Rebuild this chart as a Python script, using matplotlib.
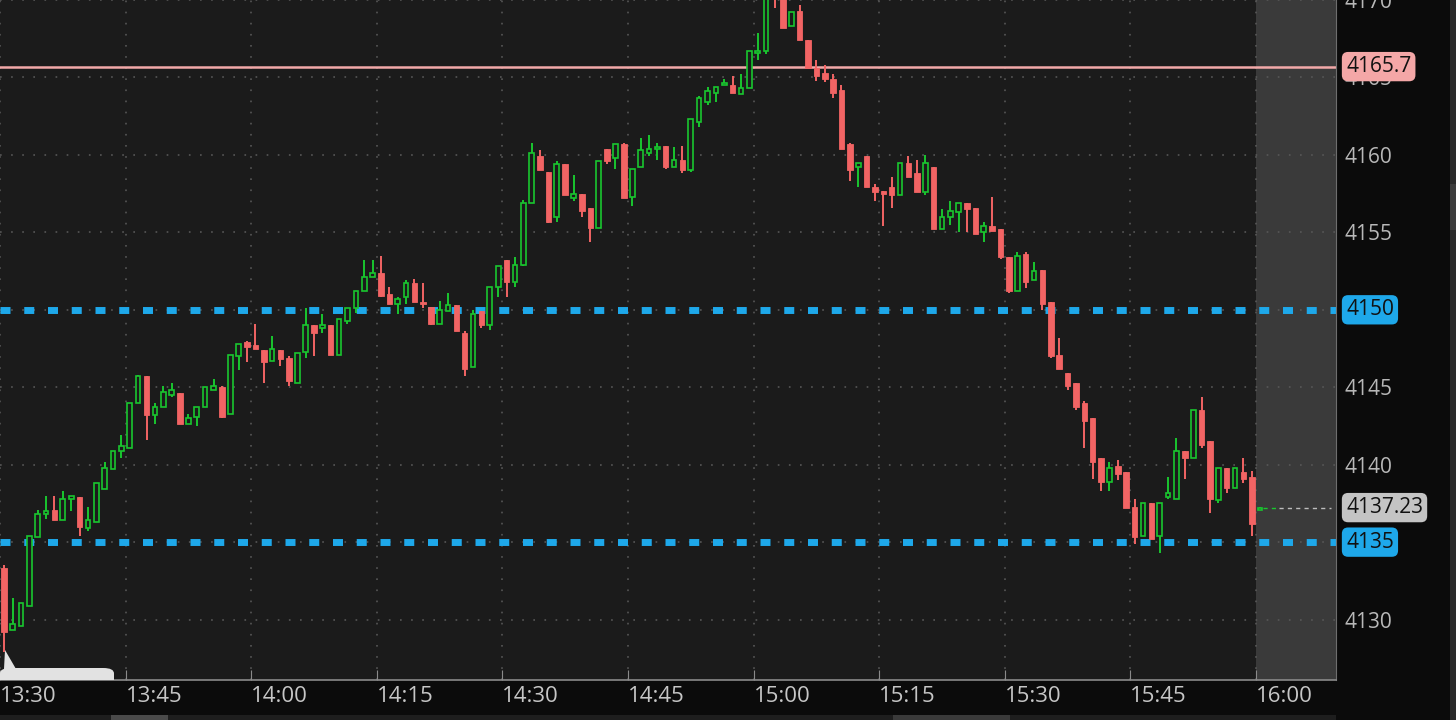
import matplotlib
matplotlib.use("Agg")
import matplotlib.pyplot as plt
from matplotlib.patches import Polygon, FancyBboxPatch, Rectangle
import numpy as np

# one-minute candles from 13:30
opens = [4133.3, 4129.3, 4129.6, 4130.9, 4135.3, 4136.8, 4137.1, 4136.4, 4137.8, 4137.9,
         4135.9, 4136.3, 4138.4, 4139.7, 4140.9, 4141.1, 4144.0, 4145.7, 4143.2, 4143.7,
         4144.5, 4144.6, 4142.6, 4143.1, 4143.7, 4144.8, 4145.0, 4143.3, 4147.0, 4147.9,
         4147.7, 4147.4, 4146.7, 4147.4, 4146.9, 4145.3, 4147.3, 4149.0, 4148.8, 4149.0,
         4147.1, 4149.3, 4150.1, 4151.2, 4152.1, 4152.4, 4151.0, 4150.4, 4150.8, 4151.7,
         4150.5, 4150.2, 4149.1, 4149.9, 4150.3, 4148.5, 4146.3, 4149.9, 4149.0, 4151.5,
         4153.2, 4151.8, 4152.9, 4156.9, 4159.9, 4158.9, 4156.0, 4159.4, 4157.2, 4157.5,
         4156.6, 4155.3, 4160.4, 4159.8, 4160.7, 4157.3, 4159.2, 4160.1, 4160.4, 4160.6,
         4159.2, 4159.7, 4159.0, 4162.1, 4163.4, 4164.0, 4164.5, 4164.5, 4163.9, 4164.3,
         4166.6, 4166.7, 4171.5, 4170.6, 4168.3, 4169.3, 4167.4, 4165.6, 4165.3, 4164.9,
         4164.2, 4160.7, 4159.2, 4159.9, 4157.9, 4157.7, 4157.9, 4157.4, 4159.5, 4158.8,
         4157.6, 4159.2, 4155.2, 4156.0, 4156.3, 4156.9, 4156.6, 4155.0, 4155.4, 4155.2,
         4153.4, 4151.2, 4153.6, 4151.9, 4152.6, 4150.5, 4147.1, 4145.9, 4145.3, 4144.0,
         4143.0, 4140.4, 4138.9, 4139.9, 4139.5, 4137.3, 4135.4, 4137.5, 4135.4, 4137.9,
         4137.8, 4140.9, 4140.4, 4143.5, 4141.5, 4137.7, 4139.8, 4138.5, 4139.5, 4139.2,
         4137.1]
highs = [4133.5, 4131.4, 4131.1, 4135.4, 4137.1, 4138.0, 4138.0, 4138.3, 4138.0, 4137.9,
         4137.3, 4138.8, 4140.2, 4140.9, 4141.9, 4144.0, 4145.8, 4145.7, 4144.0, 4145.1,
         4145.3, 4144.6, 4143.3, 4143.7, 4145.0, 4145.5, 4145.1, 4147.1, 4147.8, 4148.0,
         4149.1, 4147.4, 4148.3, 4147.4, 4147.0, 4147.2, 4150.1, 4149.0, 4149.7, 4149.0,
         4149.4, 4150.1, 4151.2, 4153.2, 4153.2, 4153.5, 4151.5, 4150.8, 4151.9, 4152.0,
         4151.7, 4150.2, 4150.6, 4151.1, 4150.3, 4148.6, 4150.0, 4149.9, 4151.5, 4152.8,
         4153.2, 4153.4, 4157.1, 4160.8, 4160.3, 4158.9, 4159.6, 4159.4, 4158.7, 4157.5,
         4156.6, 4159.6, 4160.4, 4160.7, 4160.8, 4159.1, 4161.1, 4161.3, 4160.8, 4160.6,
         4160.5, 4160.6, 4162.3, 4163.8, 4164.4, 4164.4, 4164.9, 4165.1, 4165.2, 4166.7,
         4167.9, 4171.0, 4172.0, 4171.0, 4169.2, 4169.7, 4167.4, 4166.1, 4165.8, 4165.2,
         4164.5, 4160.8, 4159.5, 4159.9, 4158.1, 4157.7, 4158.6, 4159.5, 4159.9, 4159.7,
         4160.0, 4159.2, 4156.5, 4157.0, 4156.9, 4156.9, 4156.6, 4155.7, 4157.3, 4155.2,
         4153.4, 4153.7, 4153.7, 4153.1, 4152.6, 4150.5, 4148.2, 4145.9, 4145.3, 4144.1,
         4143.0, 4140.4, 4140.2, 4140.3, 4139.5, 4137.8, 4137.5, 4137.5, 4137.5, 4139.2,
         4141.7, 4140.9, 4143.5, 4144.4, 4141.5, 4139.8, 4139.8, 4139.8, 4140.4, 4139.6,
         4137.3]
lows = [4127.9, 4129.3, 4129.6, 4130.9, 4135.3, 4136.5, 4136.4, 4136.4, 4137.0, 4135.4,
        4135.7, 4136.3, 4138.4, 4139.7, 4140.4, 4141.1, 4144.0, 4141.6, 4142.6, 4143.7,
        4144.4, 4142.6, 4142.6, 4142.5, 4143.7, 4144.8, 4143.0, 4143.3, 4146.1, 4146.6,
        4147.5, 4145.3, 4146.7, 4146.4, 4145.1, 4145.3, 4146.9, 4147.0, 4148.5, 4147.1,
        4147.1, 4149.1, 4149.8, 4151.2, 4152.1, 4150.8, 4150.4, 4149.7, 4150.4, 4150.5,
        4150.1, 4149.0, 4149.1, 4149.9, 4148.6, 4145.7, 4146.3, 4148.8, 4148.7, 4150.8,
        4150.8, 4151.5, 4152.8, 4156.9, 4159.0, 4155.6, 4155.7, 4157.4, 4157.0, 4156.0,
        4154.4, 4155.3, 4159.4, 4159.1, 4157.2, 4156.7, 4159.2, 4159.9, 4159.7, 4159.1,
        4159.2, 4158.8, 4158.9, 4161.8, 4163.2, 4163.4, 4164.5, 4164.0, 4163.9, 4164.3,
        4166.1, 4166.5, 4169.5, 4168.2, 4168.3, 4167.4, 4165.6, 4164.8, 4164.7, 4163.7,
        4160.4, 4158.3, 4157.9, 4157.9, 4157.0, 4155.4, 4156.6, 4157.4, 4158.6, 4157.6,
        4157.4, 4155.2, 4155.2, 4155.5, 4155.0, 4155.0, 4154.9, 4154.4, 4155.1, 4153.3,
        4151.1, 4151.2, 4151.4, 4151.9, 4150.0, 4146.9, 4146.2, 4144.8, 4143.5, 4141.1,
        4139.1, 4138.3, 4138.3, 4139.0, 4137.2, 4134.9, 4135.4, 4135.2, 4134.3, 4137.8,
        4137.8, 4139.1, 4140.4, 4141.1, 4136.9, 4137.5, 4138.2, 4138.5, 4138.8, 4135.4,
        4137.1]
closes = [4129.2, 4129.7, 4131.1, 4135.4, 4136.8, 4137.0, 4136.4, 4137.8, 4138.0, 4136.0,
          4136.4, 4138.8, 4139.8, 4140.9, 4141.2, 4144.0, 4145.7, 4143.2, 4143.7, 4144.7,
          4144.8, 4142.6, 4143.0, 4143.7, 4145.0, 4145.1, 4143.1, 4147.1, 4147.8, 4147.6,
          4147.5, 4146.6, 4147.5, 4146.8, 4145.4, 4147.2, 4149.0, 4148.5, 4149.0, 4147.1,
          4149.4, 4150.1, 4151.2, 4152.1, 4152.4, 4150.9, 4150.4, 4150.7, 4151.7, 4150.5,
          4150.4, 4149.1, 4150.0, 4150.3, 4148.6, 4146.2, 4149.7, 4149.0, 4151.5, 4152.8,
          4151.8, 4152.9, 4156.9, 4160.1, 4159.0, 4155.7, 4159.4, 4157.4, 4157.5, 4156.4,
          4155.3, 4159.6, 4159.6, 4160.7, 4157.2, 4159.1, 4160.3, 4160.4, 4160.5, 4159.2,
          4159.7, 4159.0, 4162.3, 4163.7, 4164.1, 4164.4, 4164.6, 4164.0, 4164.3, 4166.7,
          4166.7, 4170.4, 4170.6, 4168.2, 4169.2, 4167.4, 4165.6, 4165.1, 4164.9, 4164.0,
          4160.4, 4159.0, 4159.5, 4157.9, 4157.6, 4157.5, 4157.4, 4159.5, 4158.6, 4157.6,
          4159.5, 4155.2, 4156.0, 4156.4, 4156.9, 4156.5, 4154.9, 4155.4, 4155.1, 4153.4,
          4151.2, 4153.5, 4151.8, 4152.5, 4150.4, 4147.0, 4146.2, 4145.1, 4143.7, 4142.8,
          4140.2, 4138.9, 4139.8, 4139.4, 4137.2, 4135.3, 4137.5, 4135.2, 4137.5, 4138.2,
          4140.9, 4140.4, 4143.5, 4141.3, 4137.8, 4139.8, 4138.5, 4139.8, 4139.1, 4136.2,
          4137.23]

time_labels = ["13:30", "13:45", "14:00", "14:15", "14:30", "14:45",
               "15:00", "15:15", "15:30", "15:45", "16:00"]
price_ticks = [4130, 4135, 4140, 4145, 4150, 4155, 4160, 4165, 4170]
level_lines = [4150, 4135]
marker_line = 4165.7
last_price = 4137.23

BG = "#1b1b1b"
DARK = "#0b0b0b"
GREEN = "#19c62f"
RED = "#f26464"
BLUE = "#1ea8ea"

plt.rcParams["font.family"] = ["Open Sans", "DejaVu Sans"]
plt.rcParams["lines.scale_dashes"] = False

fig = plt.figure(figsize=(14.56, 7.2), dpi=100, facecolor=DARK)
ax = fig.add_axes([0, 40 / 720, 1336 / 1456, 680 / 720])
ax.set_facecolor(BG)

o = np.array(opens)
h = np.array(highs)
l = np.array(lows)
c = np.array(closes)
t = np.arange(len(o)) + 0.5
up = c >= o

ax.set_xlim(0, 159.56)
ax.set_ylim(4126.1, 4170.0)

# after-hours shade
ax.axvspan(150, 159.56, color="#3a3a3a", zorder=0.5, lw=0)

# grid
for x in range(0, 160, 15):
    ax.axvline(x, color="#575757", lw=1.2, ls=(0, (1.2, 6.8)), zorder=0.8)
for y in price_ticks:
    ax.axhline(y, color="#575757", lw=1.2, ls=(0, (1.2, 6.8)), zorder=0.8)

# levels
for y in level_lines:
    ax.axhline(y, color=BLUE, lw=5, ls=(0, (7.2, 9.9)), zorder=1)
ax.axhline(marker_line, color="#f2a9a9", lw=1.8, zorder=1)

# candles
ax.vlines(t, l, h, colors=np.where(up, GREEN, RED), lw=1.4, zorder=2)
body = np.maximum(np.abs(c - o), 0.12)
ax.bar(t[~up], body[~up], bottom=np.maximum(o, c)[~up] - body[~up], width=0.66,
       color=RED, edgecolor=RED, lw=0.6, zorder=3)
ax.bar(t[up], body[up], bottom=np.minimum(o, c)[up], width=0.56,
       facecolor=BG, edgecolor=GREEN, lw=1.2, zorder=3)

# last price line
ax.hlines(last_price, 150.9, 152.8, colors=GREEN, lw=1, ls=(0, (3, 3)), zorder=2)
ax.hlines(last_price, 152.8, 159.0, colors="#bdbdbd", lw=1, ls=(0, (3, 3)), zorder=2)

# axes styling
for s in ["top", "left"]:
    ax.spines[s].set_visible(False)
ax.spines["right"].set_color("#6e6e6e")
ax.spines["bottom"].set_color("#8a8a8a")
ax.spines["bottom"].set_linewidth(1.2)

ax.set_xticks(range(0, 151, 15))
ax.set_xticklabels(time_labels)
for lab in ax.get_xticklabels():
    lab.set_horizontalalignment("left")
ax.tick_params(axis="x", direction="in", length=7, color="#8a8a8a", labelsize=16,
               labelcolor="#c6c6c6", pad=4)
ax.yaxis.tick_right()
ax.set_yticks(price_ticks)
ax.set_yticklabels([str(p) for p in price_ticks])
ax.tick_params(axis="y", length=0, labelsize=15, labelcolor="#b8b8b8", pad=6)

# price badges
ytr = ax.get_yaxis_transform()
badges = [(marker_line, "4165.7", "#f4a7a7"), (4150, "4150", BLUE),
          (last_price, "4137.23", "#c4c4c4"), (4135, "4135", BLUE)]
for y, txt, col in badges:
    ax.text(1.0075, y, txt, transform=ytr, ha="left", va="center", fontsize=15,
            color="#111111", clip_on=False, zorder=5,
            bbox=dict(boxstyle="round,pad=0.2,rounding_size=0.3", fc=col, ec="none"))

# tooltip stub at bottom-left
px = lambda x, y: (x / 1336, (680 - y) / 680)
ax.add_patch(Polygon([px(4, 669), px(5, 650), px(16, 669)], closed=True,
                     fc="#e2e2e2", ec="none", transform=ax.transAxes, zorder=4))
ax.add_patch(FancyBboxPatch(px(0, 688), 114 / 1336, 20 / 680,
                            boxstyle="round,pad=0,rounding_size=0.008",
                            fc="#e2e2e2", ec="none", transform=ax.transAxes,
                            zorder=4, clip_on=True))

# scrollbars
fig.patches.append(Rectangle((1450 / 1456, 0), 6 / 1456, 1, fc="#2a2a2a", ec="none",
                             transform=fig.transFigure, zorder=0))
fig.patches.append(Rectangle((1450 / 1456, 490 / 720), 6 / 1456, 46 / 720, fc="#3c3c3c",
                             ec="none", transform=fig.transFigure, zorder=0))
fig.patches.append(Rectangle((0, 0), 1336 / 1456, 5 / 720, fc="#1e1e1e", ec="none",
                             transform=fig.transFigure, zorder=0))
fig.patches.append(Rectangle((111 / 1456, 0), 57 / 1456, 5 / 720, fc="#4a4a4a", ec="none",
                             transform=fig.transFigure, zorder=0))
fig.patches.append(Rectangle((893 / 1456, 0), 117 / 1456, 5 / 720, fc="#3a3a3a", ec="none",
                             transform=fig.transFigure, zorder=0))

fig.savefig("out.png", dpi=100, facecolor=DARK)
